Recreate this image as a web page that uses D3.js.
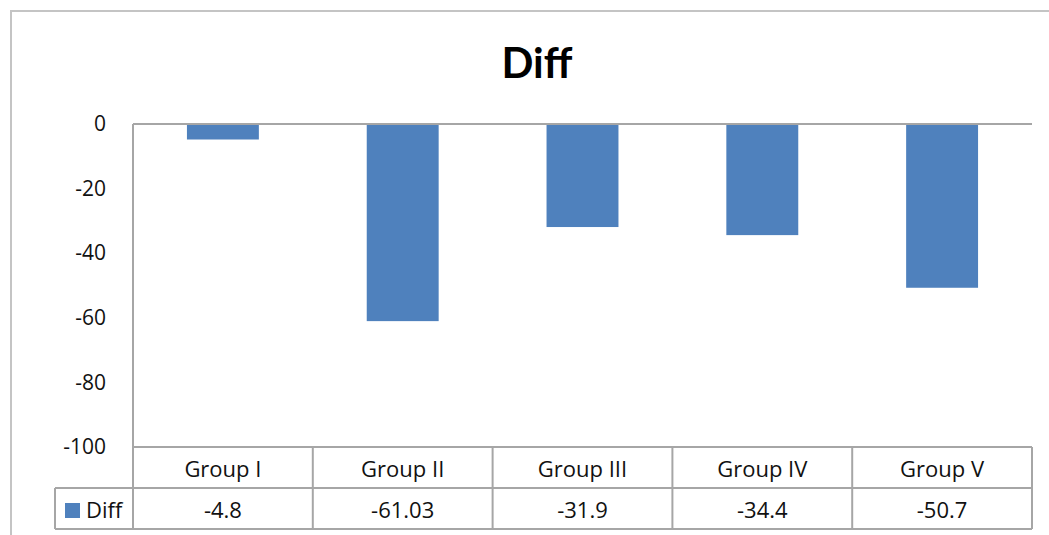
<!DOCTYPE html>
<html>
<head>
<meta charset="utf-8">
<script src="https://cdn.jsdelivr.net/npm/d3@7"></script>
<style>
  html, body { margin: 0; padding: 0; background: #fff; }
  svg { display: block; }
  text { font-family: "Open Sans", Lato, sans-serif; fill: #111; }
</style>
</head>
<body>
<svg id="chart" width="1049" height="535"></svg>
<script>
// Chart data
const categories = ["Group I", "Group II", "Group III", "Group IV", "Group V"];
const diffValues = [-4.8, -61.03, -31.9, -34.4, -50.7];
const valueLabels = ["-4.8", "-61.03", "-31.9", "-34.4", "-50.7"];
const yTicks = [0, -20, -40, -60, -80, -100];
const seriesName = "Diff";

const svg = d3.select("#chart");
const W = 1049, H = 535;

const plot = { left: 133, right: 1032, top: 124, bottom: 447 };
const rowH = 41;
const legendLeft = 55;
const barColor = "#4F81BD";
const lineColor = "#a6a6a6";

// outer chart frame
svg.append("path")
  .attr("d", `M11,${H + 2} L11,11 L${W + 2},11`)
  .attr("fill", "none").attr("stroke", "#c4c4c4").attr("stroke-width", 2);

// title
svg.append("text")
  .attr("x", 537).attr("y", 78)
  .attr("text-anchor", "middle")
  .attr("font-size", 42).attr("font-weight", "bold")
  .style("font-family", "Lato, sans-serif")
  .style("fill", "#000")
  .text(seriesName);

const x = d3.scaleBand().domain(categories).range([plot.left, plot.right]).paddingInner(0.6).paddingOuter(0.3);
const xCell = d3.scaleBand().domain(categories).range([plot.left, plot.right]);
const y = d3.scaleLinear().domain([-100, 0]).range([plot.bottom, plot.top]);

// y-axis labels (plain hyphen for negatives)
const yAxis = d3.axisLeft(y).tickValues(yTicks).tickSize(0).tickPadding(27).tickFormat(d => String(d));
const gy = svg.append("g").attr("transform", `translate(${plot.left},0)`).call(yAxis);
gy.select(".domain").remove();
gy.selectAll("text").attr("font-size", 21).style("font-family", "'Open Sans', sans-serif").style("fill", "#111");

// bars
svg.append("g").selectAll("rect").data(categories).join("rect")
  .attr("x", d => x(d))
  .attr("width", x.bandwidth())
  .attr("y", y(0))
  .attr("height", (d, i) => y(diffValues[i]) - y(0))
  .attr("fill", barColor);

// zero line along the top of the plot
svg.append("line")
  .attr("x1", plot.left).attr("x2", plot.right)
  .attr("y1", y(0)).attr("y2", y(0))
  .attr("stroke", lineColor).attr("stroke-width", 2);

// data table below the plot
const tg = svg.append("g").attr("stroke", lineColor).attr("stroke-width", 2).attr("fill", "none");
const r0 = plot.bottom, r1 = plot.bottom + rowH, r2 = plot.bottom + 2 * rowH;
tg.append("line").attr("x1", plot.left).attr("x2", plot.right).attr("y1", r0).attr("y2", r0);
tg.append("line").attr("x1", legendLeft).attr("x2", plot.right).attr("y1", r1).attr("y2", r1);
tg.append("line").attr("x1", legendLeft).attr("x2", plot.right).attr("y1", r2).attr("y2", r2);
tg.append("line").attr("x1", legendLeft).attr("x2", legendLeft).attr("y1", r1).attr("y2", r2);
tg.append("line").attr("x1", plot.left).attr("x2", plot.left).attr("y1", plot.top).attr("y2", r2);
tg.selectAll("line.col").data(categories).join("line").attr("class", "col")
  .attr("x1", d => xCell(d) + xCell.bandwidth()).attr("x2", d => xCell(d) + xCell.bandwidth())
  .attr("y1", r0).attr("y2", r2);

// category row
svg.append("g").selectAll("text").data(categories).join("text")
  .attr("x", d => xCell(d) + xCell.bandwidth() / 2)
  .attr("y", r0 + 30)
  .attr("text-anchor", "middle")
  .attr("font-size", 22)
  .text(d => d);

// values row
svg.append("g").selectAll("text").data(categories).join("text")
  .attr("x", d => xCell(d) + xCell.bandwidth() / 2)
  .attr("y", r1 + 30)
  .attr("text-anchor", "middle")
  .attr("font-size", 22)
  .text((d, i) => valueLabels[i]);

// legend key in the table
svg.append("rect").attr("x", 65).attr("y", r1 + 15).attr("width", 15).attr("height", 15).attr("fill", barColor);
svg.append("text").attr("x", 86).attr("y", r1 + 30).attr("font-size", 22).text(seriesName);
</script>
</body>
</html>
